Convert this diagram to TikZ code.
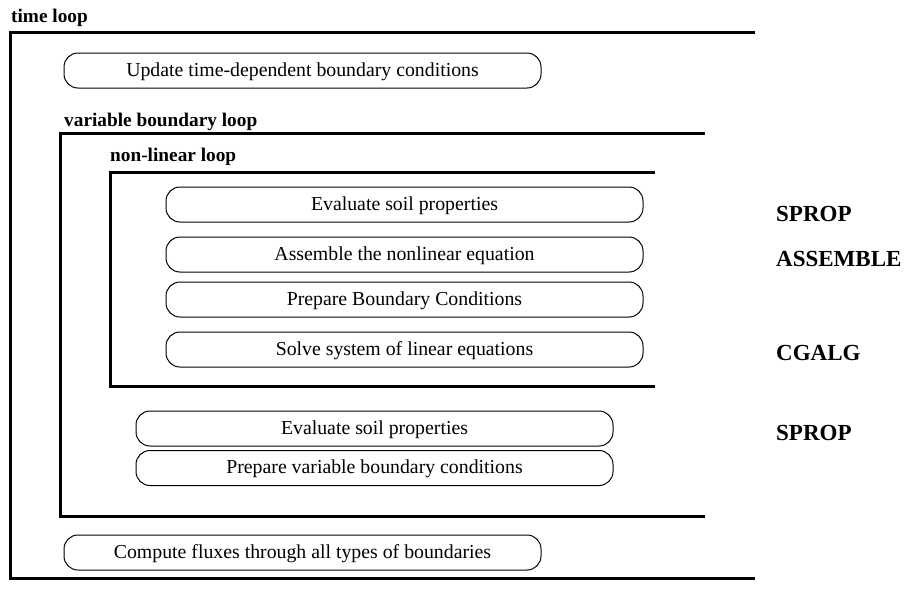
\documentclass[tikz,border=0pt]{standalone}
\usepackage{fontspec}
\setmainfont{Liberation Serif}
\begin{document}
\begin{tikzpicture}[x=1pt,y=-1pt,
  stepbox/.style={draw=black,line width=1pt,rounded corners=14pt,inner sep=0pt,
    minimum height=35pt,font=\fontsize{19.8}{23}\selectfont,text depth=3pt,text height=14pt},
  looptitle/.style={anchor=base west,inner sep=0pt,font=\fontsize{19.3}{22}\selectfont\bfseries},
  looplabel/.style={anchor=base west,inner sep=0pt,font=\fontsize{23}{26}\selectfont\bfseries},
  loopline/.style={line width=3pt,line cap=butt,line join=miter}]
\useasboundingbox (0,0) rectangle (905,590);
% loop brackets
\draw[loopline] (755,32.5) -- (10.5,32.5) -- (10.5,578) -- (755,578);
\draw[loopline] (705,133.5) -- (60.5,133.5) -- (60.5,516) -- (705,516);
\draw[loopline] (655,172) -- (110.5,172) -- (110.5,386) -- (655,386);
% titles
\node[looptitle] (tl) at (11,22.5) {time loop};
\node[looptitle] (vbl) at (64,126) {variable boundary loop};
\node[looptitle] (nll) at (110,161.5) {non-linear loop};
% boxes
\node[stepbox,minimum width=477pt] (upd) at (302.5,70.5) {Update time-dependent boundary conditions};
\node[stepbox,minimum width=477pt] (esp1) at (404.5,204.5) {Evaluate soil properties};
\node[stepbox,minimum width=477pt] (asm) at (404.5,254.5) {Assemble the nonlinear equation};
\node[stepbox,minimum width=477pt] (pbc) at (404.5,299.5) {Prepare Boundary Conditions};
\node[stepbox,minimum width=477pt] (sol) at (404.5,349.5) {Solve system of linear equations};
\node[stepbox,minimum width=477pt] (esp2) at (374.5,428.5) {Evaluate soil properties};
\node[stepbox,minimum width=477pt] (pvb) at (374.5,468) {Prepare variable boundary conditions};
\node[stepbox,minimum width=477pt] (cfx) at (302.5,552.5) {Compute fluxes through all types of boundaries};
% routine labels
\node[looplabel] (l1) at (776,221.5) {SPROP};
\node[looplabel] (l2) at (776,266) {ASSEMBLE};
\node[looplabel] (l3) at (776,360.5) {CGALG};
\node[looplabel] (l4) at (776,440) {SPROP};
\end{tikzpicture}
\end{document}
